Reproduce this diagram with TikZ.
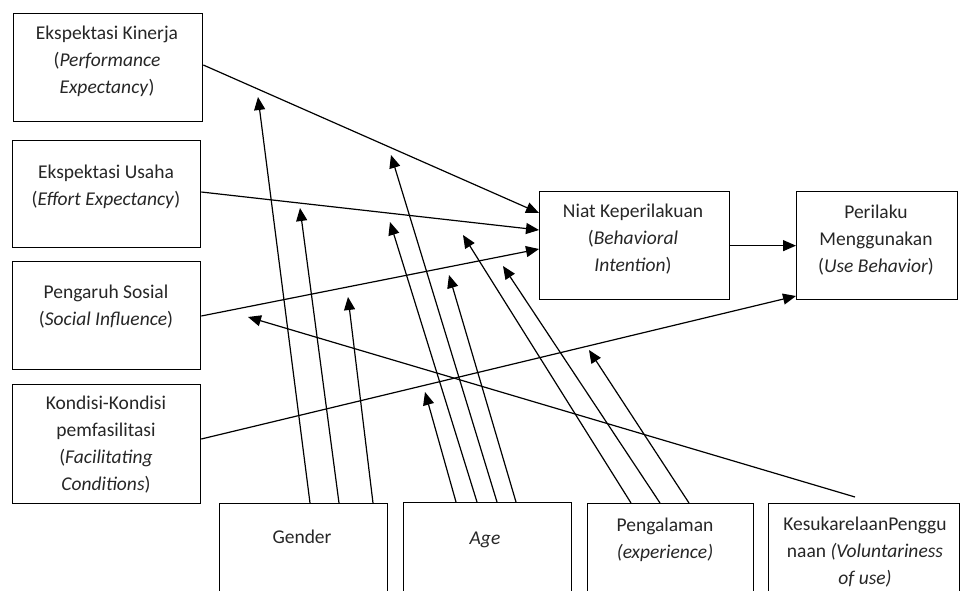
\documentclass[tikz,border=0pt]{standalone}
\usepackage{fontspec}
\setmainfont{Carlito}
\usetikzlibrary{arrows.meta}
\begin{document}
\begin{tikzpicture}[x=1pt,y=-1pt,
  box/.style={draw,line width=1.3pt,inner sep=0pt,anchor=north west},
  lbl/.style={align=center,font=\fontsize{19.5}{27}\selectfont,inner sep=0pt,text=black!85},
  arr/.style={line width=1.2pt,-{Triangle[length=13pt,width=11pt]}},
]
\useasboundingbox (0,0) rectangle (961,591);
\clip (0,0) rectangle (961,591);

% construct boxes
\node[box,minimum width=189pt,minimum height=108pt] (pe) at (13,13) {};
\node[box,minimum width=188pt,minimum height=107pt] (ee) at (12,140) {};
\node[box,minimum width=188pt,minimum height=108pt] (si) at (12,261) {};
\node[box,minimum width=188pt,minimum height=119pt] (fc) at (12,384) {};
% outcome boxes
\node[box,minimum width=190pt,minimum height=108pt] (bi) at (539,191) {};
\node[box,minimum width=161pt,minimum height=108pt] (ub) at (796,191) {};
% moderator boxes (run past the lower edge)
\node[box,minimum width=168pt,minimum height=110pt] (gender) at (219,503) {};
\node[box,minimum width=168pt,minimum height=110pt] (age) at (403,502) {};
\node[box,minimum width=166pt,minimum height=110pt] (peng) at (587,503) {};
\node[box,minimum width=191pt,minimum height=110pt] (vol) at (768,503) {};

% labels
\node[lbl] (pet) at (107,61.5) {Ekspektasi Kinerja\\(\textit{Performance}\\\textit{Expectancy})};
\node[lbl] (eet) at (106,187) {Ekspektasi Usaha\\(\textit{Effort Expectancy})};
\node[lbl] (sit) at (106,307) {Pengaruh Sosial\\(\textit{Social Influence})};
\node[lbl] (fct) at (106,445) {Kondisi-Kondisi\\pemfasilitasi\\(\textit{Facilitating}\\\textit{Conditions})};
\node[lbl] (bit) at (633,239) {Niat Keperilakuan\\(\textit{Behavioral}\\\textit{Intention})};
\node[lbl] (ubt) at (876,240) {Perilaku\\Menggunakan\\(\textit{Use Behavior})};
\node[lbl] (gendert) at (302,537) {Gender};
\node[lbl] (aget) at (485,540) {\textit{Age}};
\node[lbl] (pengt) at (665,540) {Pengalaman\\\textit{(experience)}};
\node[lbl] (volt) at (865,552) {KesukarelaanPenggu\\naan \textit{(Voluntariness}\\\textit{of use)}};

% points on the paths that the moderators act on
\coordinate (mPEg) at (258,97);
\coordinate (mEEg) at (300,208);
\coordinate (mSIg) at (348,297);
\coordinate (mFCa) at (425,392);
\coordinate (mEEa) at (390,222);
\coordinate (mPEa) at (391,155);
\coordinate (mSIa) at (449,275);
\coordinate (mEEp) at (463,235);
\coordinate (mSIp) at (503,266);
\coordinate (mFCp) at (589,350);
\coordinate (mSIv) at (248,317);

% main paths
\draw[arr] ([yshift=-52pt]pe.north east) -- ([yshift=-22pt]bi.north west);
\draw[arr] ([yshift=-52pt]ee.north east) -- ([yshift=-39pt]bi.north west);
\draw[arr] ([yshift=-55pt]si.north east) -- ([yshift=-58pt]bi.north west);
\draw[arr] ([yshift=-55pt]fc.north east) -- ([yshift=-105pt]ub.north west);
\draw[arr] (bi.east) -- (ub.west);

% moderating effects
\draw[arr] ([xshift=91pt]gender.north west) -- (mPEg);
\draw[arr] ([xshift=120pt]gender.north west) -- (mEEg);
\draw[arr] ([xshift=154pt]gender.north west) -- (mSIg);
\draw[arr] ([xshift=53pt]age.north west) -- (mFCa);
\draw[arr] ([xshift=74pt]age.north west) -- (mEEa);
\draw[arr] ([xshift=94pt]age.north west) -- (mPEa);
\draw[arr] ([xshift=113pt]age.north west) -- (mSIa);
\draw[arr] ([xshift=44pt]peng.north west) -- (mEEp);
\draw[arr] ([xshift=73pt]peng.north west) -- (mSIp);
\draw[arr] ([xshift=102pt]peng.north west) -- (mFCp);
\draw[arr] ([xshift=87pt,yshift=6pt]vol.north west) -- (mSIv);
\end{tikzpicture}
\end{document}
